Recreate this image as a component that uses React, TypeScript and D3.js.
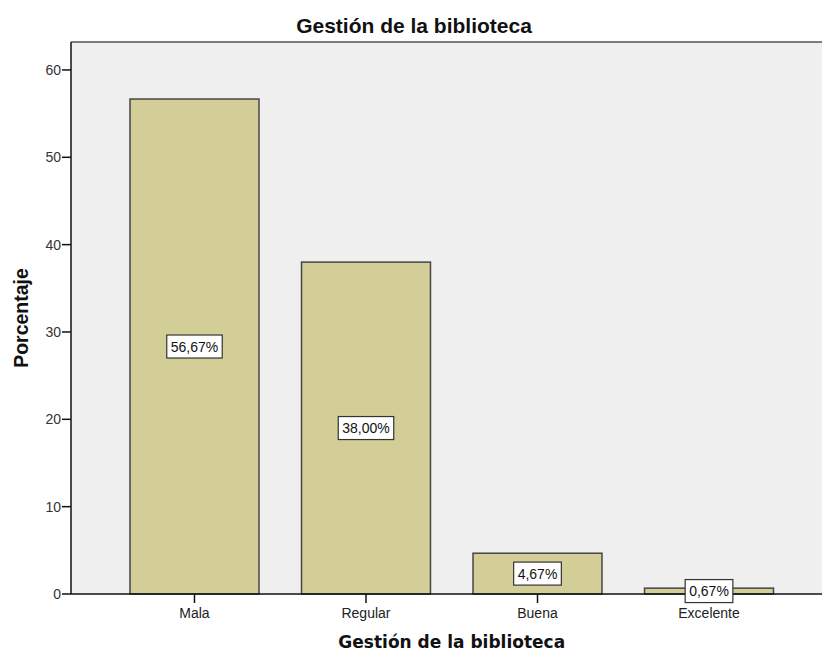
import React from "react";
import * as d3 from "d3";

// Gestión de la biblioteca: porcentaje por categoría
const categories = ["Mala", "Regular", "Buena", "Excelente"];
const percentages = [56.67, 38.0, 4.67, 0.67];
const valueLabels = ["56,67%", "38,00%", "4,67%", "0,67%"];
const yTicks = [0, 10, 20, 30, 40, 50, 60];
const chartTitle = "Gestión de la biblioteca";
const xTitle = "Gestión de la biblioteca";
const yTitle = "Porcentaje";

const W = 822;
const H = 651;
const plotLeft = 71;
const plotRight = 832.5;
const plotTop = 42;
const plotBottom = 594;

const FONT = "Arial, 'Liberation Sans', sans-serif";

function textWidth(s: string, size: number): number {
  // Arial advance widths (em) for the glyphs used in the value labels
  const w: Record<string, number> = { ",": 0.278, "%": 0.889 };
  let t = 0;
  for (const ch of s) t += w[ch] ?? 0.556;
  return t * size;
}

export default function App() {
  const x = d3
    .scaleBand<string>()
    .domain(categories)
    .range([plotLeft, plotRight])
    .paddingInner(0.248)
    .paddingOuter(0.344);

  const y = d3.scaleLinear().domain([0, 63.2]).range([plotBottom, plotTop]);

  const labelSize = 14;
  const boxH = 23;

  return (
    <div style={{ position: "absolute", left: 0, top: 0 }}>
      <svg width={W} height={H} style={{ display: "block", background: "#ffffff" }}>
        {/* plot background */}
        <rect
          x={plotLeft}
          y={plotTop}
          width={plotRight - plotLeft}
          height={plotBottom - plotTop}
          fill="#efefef"
        />
        {/* top frame */}
        <line x1={plotLeft} x2={plotRight} y1={plotTop} y2={plotTop} stroke="#7a7a7a" strokeWidth={2} />

        {/* bars */}
        {categories.map((c, i) => (
          <rect
            key={c}
            x={x(c)!}
            y={y(percentages[i])}
            width={x.bandwidth()}
            height={y(0) - y(percentages[i])}
            fill="#d3ce97"
            stroke="#454545"
            strokeWidth={1.5}
          />
        ))}

        {/* axes */}
        <line x1={plotLeft} x2={plotLeft} y1={plotTop} y2={plotBottom} stroke="#111" strokeWidth={1.5} />
        <line x1={plotLeft} x2={plotRight} y1={plotBottom} y2={plotBottom} stroke="#111" strokeWidth={1.5} />

        {/* y ticks */}
        {yTicks.map((t) => (
          <g key={t}>
            <line x1={plotLeft - 9} x2={plotLeft} y1={y(t)} y2={y(t)} stroke="#111" strokeWidth={1.5} />
            <text
              x={plotLeft - 10}
              y={y(t)}
              dy="0.36em"
              textAnchor="end"
              fontFamily={FONT}
              fontSize={14}
              fill="#333"
            >
              {t}
            </text>
          </g>
        ))}

        {/* x ticks */}
        {categories.map((c) => {
          const cx = x(c)! + x.bandwidth() / 2;
          return (
            <g key={c}>
              <line x1={cx} x2={cx} y1={plotBottom} y2={plotBottom + 9} stroke="#111" strokeWidth={1.5} />
              <text x={cx} y={618} textAnchor="middle" fontFamily={FONT} fontSize={14} fill="#222">
                {c}
              </text>
            </g>
          );
        })}

        {/* value labels */}
        {categories.map((c, i) => {
          const cx = x(c)! + x.bandwidth() / 2;
          const cy = y(percentages[i] / 2);
          const bw = textWidth(valueLabels[i], labelSize) + 8;
          return (
            <g key={c}>
              <rect
                x={cx - bw / 2}
                y={cy - boxH / 2}
                width={bw}
                height={boxH}
                fill="#ffffff"
                stroke="#333"
                strokeWidth={1.2}
              />
              <text
                x={cx}
                y={cy}
                dy="0.36em"
                textAnchor="middle"
                fontFamily={FONT}
                fontSize={labelSize}
                fill="#111"
              >
                {valueLabels[i]}
              </text>
            </g>
          );
        })}

        {/* titles */}
        <text x={414} y={33} textAnchor="middle" fontFamily={FONT} fontWeight="bold" fontSize={21} fill="#111">
          {chartTitle}
        </text>
        <text
          x={(plotLeft + plotRight) / 2}
          y={648}
          textAnchor="middle"
          fontFamily="'DejaVu Sans', Verdana, sans-serif"
          fontWeight="bold"
          fontSize={17}
          fill="#111"
        >
          {xTitle}
        </text>
        <text
          transform={`translate(28, ${(plotTop + plotBottom) / 2}) rotate(-90)`}
          textAnchor="middle"
          fontFamily={FONT}
          fontWeight="bold"
          fontSize={19.5}
          fill="#111"
        >
          {yTitle}
        </text>
      </svg>
    </div>
  );
}
